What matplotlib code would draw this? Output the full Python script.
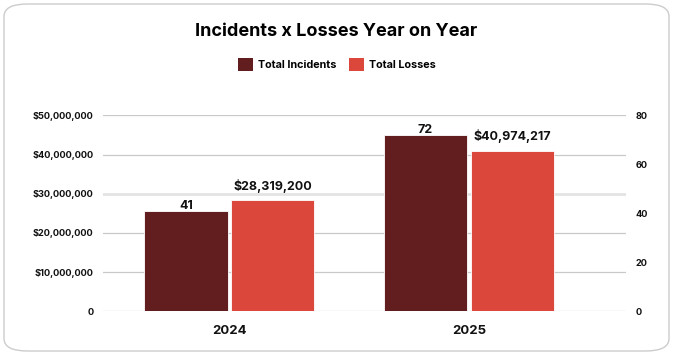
import matplotlib.pyplot as plt
from matplotlib.patches import FancyBboxPatch
from matplotlib.ticker import FuncFormatter
import numpy as np

years = ["2024", "2025"]
incidents = [41, 72]
losses = [28319200, 40974217]
loss_ticks = [0, 10000000, 20000000, 30000000, 40000000, 50000000]
incident_ticks = [0, 20, 40, 60, 80]

DARK = "#621e1f"
RED = "#dc473b"
GRID = "#c9c9c9"

plt.rcParams["font.family"] = ["Inter", "DejaVu Sans"]


def money(v, _pos=None) -> str:
    """0 stays plain, everything else gets a $ and thousands separators."""
    if v == 0:
        return "0"
    return f"${v:,.0f}"


def main() -> None:
    fig = plt.figure(figsize=(6.73, 3.55), dpi=100)

    # --- card border ------------------------------------------------------ #
    card = FancyBboxPatch((4 / 673, 4 / 355), 665 / 673, 347 / 355,
                          boxstyle="round,pad=0,rounding_size=0.035",
                          transform=fig.transFigure, facecolor="white",
                          edgecolor="#cccccc", linewidth=1.0, zorder=-10)
    fig.patches.append(card)

    ax = fig.add_axes([103.3 / 673, 1 - 311.3 / 355, 522.7 / 673, 196 / 355])
    ax2 = ax.twinx()
    ax.set_facecolor("none")

    x = np.arange(len(years))
    width = 0.347
    off = 0.181

    # incidents live on the right axis, losses on the left
    b1 = ax2.bar(x - off, incidents, width, color=DARK, edgecolor="white",
                 linewidth=0.6, zorder=3)
    b2 = ax2.bar(x + off, [v / 50000000 * 80 for v in losses], width,
                 color=RED, edgecolor="white", linewidth=0.6, zorder=3)

    for rect, val in zip(b1, incidents):
        ax2.annotate(f"{val}", (rect.get_x() + rect.get_width() / 2, rect.get_height()),
                     xytext=(0, 3.8), textcoords="offset points", ha="center",
                     va="center", fontsize=9, fontweight="bold", color="#111111")
    for rect, val in zip(b2, losses):
        ax2.annotate(f"${val:,}", (rect.get_x() + rect.get_width() / 2, rect.get_height()),
                     xytext=(0, 10.5), textcoords="offset points", ha="center",
                     va="center", fontsize=9, fontweight="bold", color="#111111")

    # --- axes ------------------------------------------------------------- #
    ax.set_ylim(0, 50000000)
    ax2.set_ylim(0, 80)
    ax.set_xlim(-0.526, 1.656)
    ax.set_yticks(loss_ticks)
    ax.yaxis.set_major_formatter(FuncFormatter(money))
    ax2.set_yticks(incident_ticks)
    ax.set_xticks(x)

    for a in (ax, ax2):
        for s in a.spines.values():
            s.set_visible(False)
        a.tick_params(length=0, labelsize=6.6, colors="#111111")
    ax.tick_params(axis="y", pad=7)
    ax2.tick_params(axis="y", pad=7)
    ax.tick_params(axis="x", pad=10)
    ax.set_xticklabels(years, fontsize=9.5, fontweight="bold")
    for lbl in ax.get_yticklabels() + ax2.get_yticklabels():
        lbl.set_fontweight("bold")

    # gridlines from the money axis, drawn behind the bars
    ax.set_zorder(ax2.get_zorder() - 1)
    ax2.patch.set_visible(False)
    for t in loss_ticks:
        if t == 30000000:
            ax.axhline(t, color="#e3e3e3", linewidth=2.0, zorder=0)
        else:
            ax.axhline(t, color=GRID, linewidth=0.9, zorder=0)

    # --- title and legend ------------------------------------------------- #
    fig.text(0.5, 1 - 31.5 / 355, "Incidents x Losses Year on Year",
             ha="center", va="center", fontsize=13, fontweight="bold")
    leg = fig.legend([b1, b2], ["Total Incidents", "Total Losses"],
                     loc="center", bbox_to_anchor=(337 / 673, 1 - 64.5 / 355),
                     ncol=2, frameon=False, prop={"size": 7.8, "weight": "bold"},
                     handlelength=1.4, handleheight=1.4, handletextpad=0.45,
                     columnspacing=1.2)
    for h in leg.legend_handles:
        h.set_edgecolor("none")

    fig.savefig("out.png", dpi=100)


if __name__ == "__main__":
    main()
